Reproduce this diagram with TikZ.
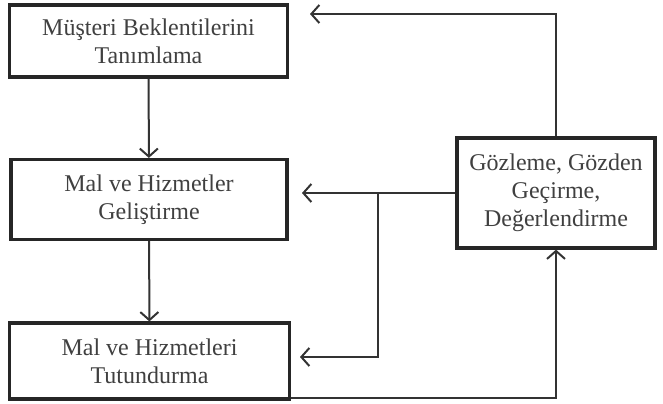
\documentclass[tikz,border=0pt]{standalone}
\usepackage{fontspec}
\setmainfont{Liberation Serif}
\usepackage{tikz}
\usetikzlibrary{arrows.meta,positioning,calc}

\tikzset{
    kutu/.style={draw=black!85, line width=1.6pt, fill=white, align=center,
        text=black!75, font=\fontsize{12}{14}\selectfont, inner sep=2pt},
    ok/.style={->, line width=1pt, draw=black!80}
}

\begin{document}
\begin{tikzpicture}[>={Straight Barb[length=4pt,width=9pt]}, x=0.5pt, y=-0.5pt]
    \useasboundingbox (0,0) rectangle (663,403);

    % Sol sütun kutuları
    \node[kutu, minimum width=139pt, minimum height=36pt] (musteri) at (148.5,41) {Müşteri Beklentilerini\\Tanımlama};
    \node[kutu, minimum width=138pt, minimum height=40pt] (gelistir) at (149,199.5) {Mal ve Hizmetler\\Geliştirme};
    \node[kutu, minimum width=140pt, minimum height=38pt] (tutundur) at (149.5,361) {Mal ve Hizmetleri\\Tutundurma};

    % Sağdaki kutu
    \node[kutu, minimum width=99pt, minimum height=55pt] (gozlem) at (556,193) {Gözleme, Gözden\\Geçirme,\\Değerlendirme};

    % Geri besleme uçları
    \coordinate (ustuc) at (310,14);
    \coordinate (ortauc) at (302,193);
    \coordinate (kavsak) at (378,193);
    \coordinate (altuc) at (300,357);

    % Aşağı oklar
    \draw[ok] (musteri) -- (gelistir);
    \draw[ok] (gelistir) -- (tutundur);

    % Geri besleme okları
    \draw[ok] (gozlem.north) |- (ustuc);
    \draw[ok] (gozlem.west) -- (ortauc);
    \draw[ok] (kavsak) |- (altuc);
    \draw[ok] ([yshift=1.2pt]tutundur.south east) -| (gozlem.south);
\end{tikzpicture}
\end{document}
